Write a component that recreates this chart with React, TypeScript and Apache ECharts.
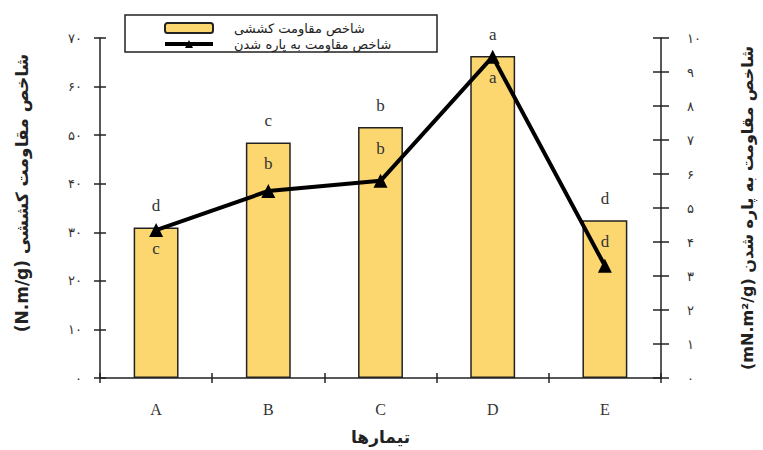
import React, { useEffect, useRef } from "react";
import * as echarts from "echarts";

const categories = ["A", "B", "C", "D", "E"];
const tensileIndex = [31, 48.5, 51.7, 66.3, 32.5];
const tearIndex = [4.35, 5.5, 5.8, 9.45, 3.3];
const tensileLetters = ["d", "c", "b", "a", "d"];
const tearLetters = ["c", "b", "b", "a", "d"];
const tensileName = "شاخص مقاومت کششی";
const tearName = "شاخص مقاومت به پاره شدن";
const leftAxisTitle = "(N.m/g) شاخص مقاومت کششی";
const rightAxisTitle = "(mN.m²/g) شاخص مقاومت به پاره شدن";
const xAxisTitle = "تیمارها";

const faDigits = "۰۱۲۳۴۵۶۷۸۹";
const toFa = (v: number | string) => String(v).replace(/\d/g, (d) => faDigits[Number(d)]);

export default function App() {
  const ref = useRef<HTMLDivElement>(null);
  useEffect(() => {
    if (!ref.current) return;
    const chart = echarts.init(ref.current, undefined, { renderer: "svg" });
    const axisColor = "#222";
    const serif = "Liberation Serif";
    const fa = "DejaVu Sans";
    chart.setOption({
      animation: false,
      backgroundColor: "#fff",
      grid: { left: 100, right: 92, top: 38, bottom: 70 },
      graphic: [
        {
          type: "rect",
          shape: { x: 125, y: 15, width: 312, height: 37 },
          style: { fill: "none", stroke: "#222", lineWidth: 1.5 },
          z: 10,
        },
      ],
      legend: {
        orient: "vertical",
        left: 163,
        top: 20,
        padding: 0,
        itemGap: 0,
        itemWidth: 48,
        itemHeight: 10,
        lineStyle: { width: 4 },
        textStyle: { fontFamily: fa, fontSize: 13, lineHeight: 16, color: "#222", padding: [0, 0, 0, 16] },
        data: [tensileName, tearName],
      },
      xAxis: [
        {
          type: "category",
          data: categories,
          boundaryGap: true,
          axisLine: { lineStyle: { color: axisColor, width: 1.5 } },
          axisTick: { show: true, length: 5, lineStyle: { color: axisColor, width: 1.5 } },
          axisLabel: { fontFamily: serif, fontSize: 16, color: "#333", margin: 23 },
          name: xAxisTitle,
          nameLocation: "middle",
          nameGap: 50,
          nameTextStyle: { fontFamily: fa, fontSize: 17, fontWeight: "bold", color: "#222" },
        },
        {
          type: "category",
          data: categories,
          position: "bottom",
          boundaryGap: true,
          axisLine: { show: false },
          axisTick: { show: true, inside: true, length: 5, lineStyle: { color: axisColor, width: 1.5 } },
          axisLabel: { show: false },
        },
      ],
      yAxis: [
        {
          type: "value",
          position: "left",
          min: 0,
          max: 70,
          interval: 10,
          splitLine: { show: false },
          axisLine: { show: true, lineStyle: { color: axisColor, width: 1.5 } },
          axisTick: { show: true, length: 6, lineStyle: { color: axisColor, width: 1.5 } },
          axisLabel: { formatter: (v: number) => toFa(v), fontFamily: fa, fontSize: 13, color: "#333", margin: 18 },
          name: leftAxisTitle,
          nameLocation: "middle",
          nameRotate: 90,
          nameGap: 70,
          nameTextStyle: { fontFamily: fa, fontSize: 17, fontWeight: "bold", color: "#222", padding: [0, 0, 0, 30] },
        },
        {
          type: "value",
          position: "right",
          min: 0,
          max: 10,
          interval: 1,
          splitLine: { show: false },
          axisLine: { show: true, lineStyle: { color: axisColor, width: 1.5 } },
          axisTick: { show: true, length: 8, lineStyle: { color: axisColor, width: 1.5 } },
          axisLabel: { formatter: (v: number) => toFa(v), fontFamily: fa, fontSize: 13, color: "#333", margin: 26 },
          name: rightAxisTitle,
          nameLocation: "middle",
          nameRotate: 90,
          nameGap: 78,
          nameTextStyle: { fontFamily: fa, fontSize: 16, fontWeight: "bold", color: "#222" },
        },
        {
          type: "value",
          position: "left",
          min: 0,
          max: 70,
          interval: 10,
          splitLine: { show: false },
          axisLine: { show: false },
          axisTick: { show: true, inside: true, length: 6, lineStyle: { color: axisColor, width: 1.5 } },
          axisLabel: { show: false },
        },
        {
          type: "value",
          position: "right",
          min: 0,
          max: 10,
          interval: 1,
          splitLine: { show: false },
          axisLine: { show: false },
          axisTick: { show: true, inside: true, length: 8, lineStyle: { color: axisColor, width: 1.5 } },
          axisLabel: { show: false },
        },
      ],
      series: [
        {
          name: tensileName,
          type: "bar",
          xAxisIndex: 0,
          yAxisIndex: 0,
          data: tensileIndex,
          barWidth: "40%",
          itemStyle: { color: "#FCD770", borderColor: "#222", borderWidth: 1.5 },
          label: {
            show: true,
            position: "top",
            distance: 13,
            formatter: (p: any) => tensileLetters[p.dataIndex],
            fontFamily: serif,
            fontSize: 17,
            color: "#333",
          },
          z: 2,
        },
        {
          name: "tearLetters",
          type: "bar",
          xAxisIndex: 0,
          yAxisIndex: 0,
          data: tensileIndex,
          barWidth: "40%",
          barGap: "-100%",
          itemStyle: { color: "rgba(0,0,0,0)" },
          label: {
            show: true,
            position: "insideTop",
            distance: 13,
            formatter: (p: any) => tearLetters[p.dataIndex],
            fontFamily: serif,
            fontSize: 17,
            color: "#333",
          },
          z: 4,
          silent: true,
        },
        {
          name: tearName,
          type: "line",
          xAxisIndex: 0,
          yAxisIndex: 1,
          data: tearIndex,
          symbol: "triangle",
          symbolSize: 14,
          lineStyle: { color: "#000", width: 4 },
          itemStyle: { color: "#000" },
          z: 3,
        },
      ],
    });
    return () => chart.dispose();
  }, []);
  return (
    <div
      ref={ref}
      style={{ position: "fixed", left: 0, top: 0, width: 763, height: 450 }}
    />
  );
}
